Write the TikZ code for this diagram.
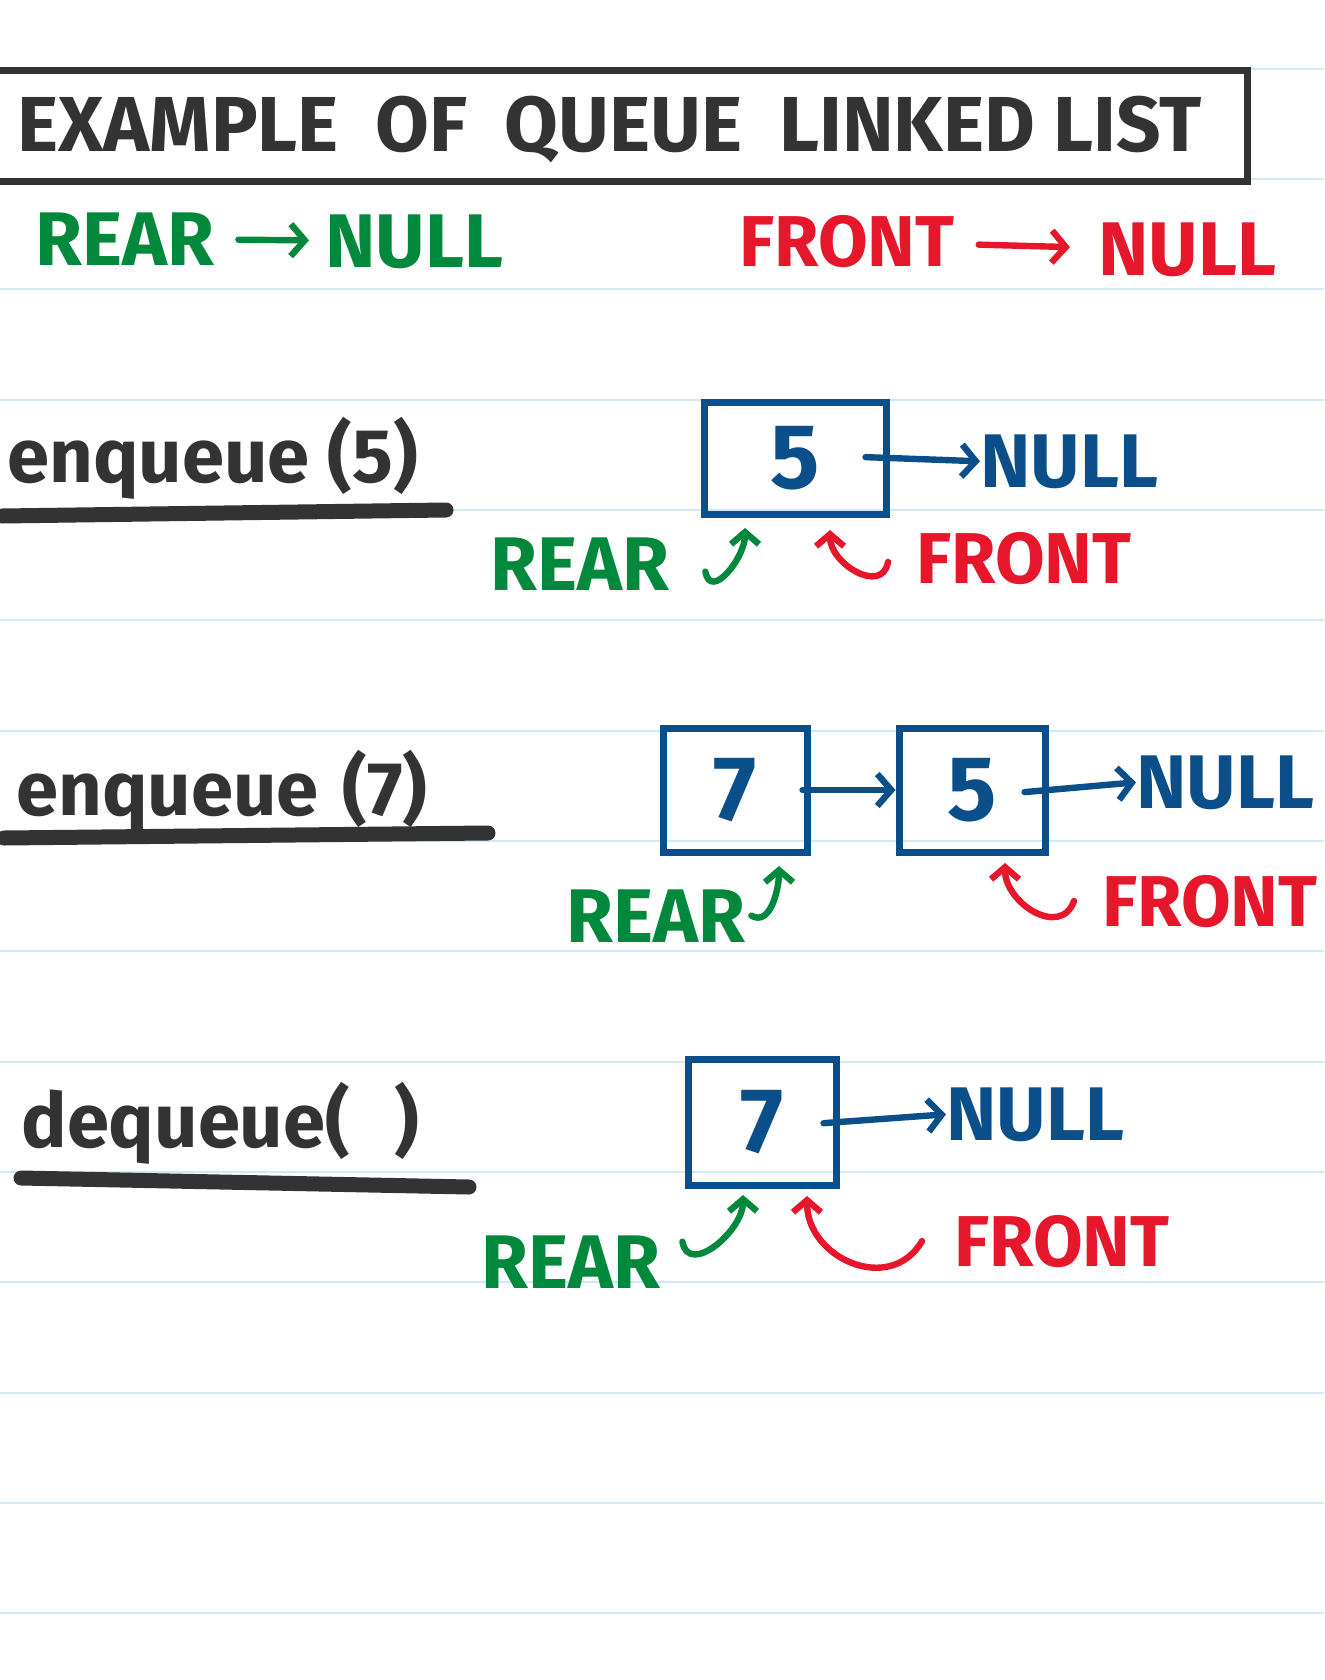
\documentclass[tikz,border=0pt]{standalone}
\usepackage{fontspec}
\setmainfont{Fira Sans}
\usetikzlibrary{arrows.meta}
\definecolor{inkgray}{HTML}{333333}
\definecolor{inkgreen}{HTML}{00883C}
\definecolor{inkred}{HTML}{E6162B}
\definecolor{inkblue}{HTML}{0B4F8A}
\definecolor{ruleblue}{HTML}{CFE9F7}
\tikzstyle{heading}=[anchor=base west,inner sep=0pt,text=inkgray,font=\fontsize{38}{38}\selectfont\bfseries]
\tikzstyle{rearlbl}=[anchor=base west,inner sep=0pt,text=inkgreen,font=\fontsize{38}{38}\selectfont\bfseries]
\tikzstyle{frontlbl}=[anchor=base west,inner sep=0pt,text=inkred,font=\fontsize{36}{36}\selectfont\bfseries]
\tikzstyle{nulllbl}=[anchor=base west,inner sep=0pt,text=inkblue,font=\fontsize{38}{38}\selectfont\bfseries]
\tikzstyle{cell}=[rectangle,draw=inkblue,line width=3.5pt,inner sep=0mm,text=inkblue,font=\fontsize{46}{46}\selectfont\bfseries]
\tikzstyle{link}=[->,>={Straight Barb[length=7pt,width=16pt]},line width=3.2pt,line cap=round]
\tikzstyle{hook}=[->,>={Straight Barb[length=6pt,width=14pt]},line width=3.2pt,line cap=round]
\tikzstyle{underline}=[line width=7.5pt,line cap=round,draw=inkgray]
\tikzset{every picture/.style={
    x=0.5pt,y=-0.5pt
  }
}

\begin{document}
\begin{tikzpicture}
    \useasboundingbox[fill=white] (0,0) rectangle (1324,1680);
    \foreach \y in {69,179,289,400,510,620,731,841,951,1062,1172,1282,1393,1503,1613}
      \draw[ruleblue,line width=1pt] (0,\y) -- (1324,\y);

    % title
    \draw[inkgray,line width=3.5pt,fill=white] (-10,71) rectangle (1247,182);
    \node[heading,font=\fontsize{39}{39}\selectfont\bfseries] at (17,152) (title) {EXAMPLE\ \ OF\ \ QUEUE\ \ LINKED LIST};

    % start: empty queue
    \node[rearlbl] at (35,265) (rear0) {REAR};
    \node[rearlbl] at (325,267) (null0) {NULL};
    \draw[link,inkgreen,shorten <=12pt,shorten >=8pt] (rear0) -- (null0);
    \node[frontlbl] at (739,266) (front0) {FRONT};
    \node[frontlbl,font=\fontsize{38}{38}\selectfont\bfseries] at (1098,276) (null0r) {NULL};
    \draw[link,inkred,shorten <=12pt,shorten >=14pt] (front0) -- (null0r);

    % enqueue 5
    \node[heading] at (7,482) (enq1) {enqueue (5)};
    \draw[underline] (2,516) -- (446,510);
    \node[cell,minimum width=91pt,minimum height=56pt] at (795,458) (cell5a) {5};
    \node[nulllbl] at (980,487) (null1) {NULL};
    \draw[link,inkblue,shorten <=-12pt] (cell5a.east) -- (null1.west);
    \node[rearlbl] at (490,590) (rear1) {REAR};
    \node[frontlbl] at (916,583) (front1) {FRONT};
    \coordinate (rtip1) at (745,528);
    \coordinate (ftip1) at (830,530);
    \draw[hook,inkgreen] ([xshift=18pt,yshift=-4pt]rear1.east) to[out=-80,in=-90,looseness=1.3] (rtip1);
    \draw[hook,inkred] ([xshift=-14pt,yshift=-2pt]front1.west) to[out=-100,in=-90,looseness=1.3] (ftip1);

    % enqueue 7
    \node[heading] at (16,815) (enq2) {enqueue\hspace{12pt}(7)};
    \draw[underline] (4,838) -- (488,833);
    \node[cell,minimum width=72pt,minimum height=62pt] at (735,790) (cell7a) {7};
    \node[cell,minimum width=73pt,minimum height=62pt] at (972,790) (cell5b) {5};
    \node[nulllbl] at (1136,808) (null2) {NULL};
    \draw[link,inkblue,shorten <=-4pt] (cell7a.east) -- (cell5b.west);
    \draw[link,inkblue,shorten <=-12pt] (cell5b.east) -- (null2.west);
    \node[rearlbl] at (566,942) (rear2) {REAR};
    \node[frontlbl] at (1102,926) (front2) {FRONT};
    \coordinate (rtip2) at (779,866);
    \coordinate (ftip2) at (1005,863);
    \draw[hook,inkgreen] ([xshift=3pt]rear2.east) to[out=-30,in=-90] (rtip2);
    \draw[hook,inkred] ([xshift=-14pt]front2.west) to[out=-110,in=-90,looseness=1.3] (ftip2);

    % dequeue
    \node[heading] at (21,1147) (deq) {dequeue(\hspace{22pt})};
    \draw[underline] (21,1178) -- (469,1187);
    \node[cell,minimum width=74pt,minimum height=63pt] at (762,1122) (cell7b) {7};
    \node[nulllbl] at (946,1140) (null3) {NULL};
    \draw[link,inkblue,shorten <=-8pt] (cell7b.east) -- (null3.west);
    \node[rearlbl] at (481,1288) (rear3) {REAR};
    \node[frontlbl] at (954,1266) (front3) {FRONT};
    \coordinate (rtip3) at (743,1195);
    \coordinate (ftip3) at (807,1196);
    \draw[hook,inkgreen] ([xshift=11pt,yshift=10pt]rear3.east) to[out=-80,in=-90,looseness=1.2] (rtip3);
    \draw[hook,inkred] ([xshift=-16pt]front3.west) to[out=-120,in=-90,looseness=1.3] (ftip3);
\end{tikzpicture}
\end{document}
